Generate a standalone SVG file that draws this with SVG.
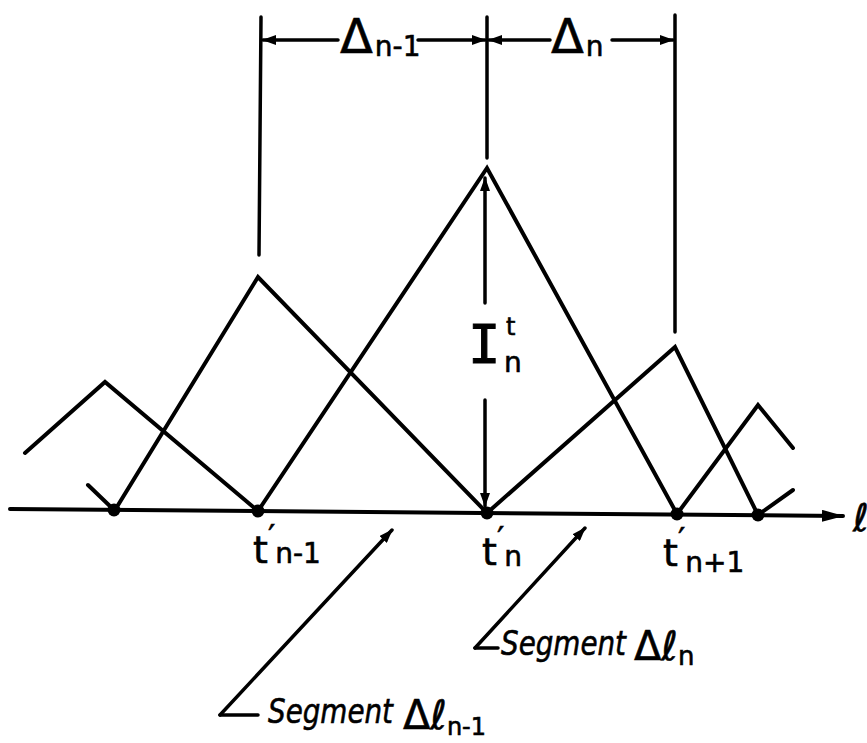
<svg xmlns="http://www.w3.org/2000/svg" width="867" height="743" viewBox="0 0 867 743">
<defs>
<style>
.ln{fill:none;stroke:#000;stroke-width:4;stroke-linecap:round;stroke-linejoin:miter}
.thin{fill:none;stroke:#000;stroke-width:3.5;stroke-linecap:round}
.dot{fill:#000}
.tx{font-family:"DejaVu Sans","Liberation Sans",sans-serif;fill:#000;stroke:#000;stroke-width:0.6}
.it{font-family:"DejaVu Sans","Liberation Sans",sans-serif;font-style:italic;fill:#000;stroke:#000;stroke-width:0.6}
.mono{font-family:"DejaVu Sans Mono","Liberation Mono",monospace;fill:#000;stroke:#000;stroke-width:1}
</style>
<marker id="ah" viewBox="0 0 14 10" refX="13" refY="5" markerWidth="14" markerHeight="10" markerUnits="userSpaceOnUse" orient="auto">
<path d="M0,0 L14,5 L0,10 Z" fill="#000"/>
</marker>
<marker id="big" viewBox="0 0 22 12" refX="21" refY="6" markerWidth="22" markerHeight="12" markerUnits="userSpaceOnUse" orient="auto">
<path d="M0,0 L22,6 L0,12 Z" fill="#000"/>
</marker>
</defs>
<rect width="867" height="743" fill="#fff"/>

<g id="axis">
<line class="ln" x1="10" y1="509" x2="843" y2="516" stroke-width="5" marker-end="url(#big)"/>
<text class="it" x="853" y="531" font-size="38">ℓ</text>
</g>

<g id="curves">
<polyline class="ln" points="25,453 105,382 258,511"/>
<line class="ln" x1="88" y1="485" x2="114" y2="510"/>
<polyline class="ln" points="115,510 258,277 487,513"/>
<polyline class="ln" points="258,511 487,168 677,514"/>
<polyline class="ln" points="487,513 675,347 758,515"/>
<polyline class="ln" points="677,514 758,405 793,448"/>
<line class="ln" x1="758" y1="515" x2="793" y2="490"/>
</g>

<g id="dots">
<circle class="dot" cx="114" cy="510" r="6.5"/>
<circle class="dot" cx="258" cy="511" r="6.5"/>
<circle class="dot" cx="487" cy="513" r="6.5"/>
<circle class="dot" cx="677" cy="514" r="6.5"/>
<circle class="dot" cx="758" cy="515" r="6.5"/>
</g>

<g id="dimensions">
<line class="thin" x1="261" y1="17" x2="259" y2="255"/>
<line class="thin" x1="487" y1="17" x2="487" y2="158"/>
<line class="thin" x1="675" y1="15" x2="675" y2="332"/>
<line class="thin" x1="338" y1="40" x2="263" y2="40" marker-end="url(#ah)"/>
<line class="thin" x1="418" y1="40" x2="485" y2="40" marker-end="url(#ah)"/>
<line class="thin" x1="550" y1="40" x2="489" y2="40" marker-end="url(#ah)"/>
<line class="thin" x1="612" y1="40" x2="673" y2="40" marker-end="url(#ah)"/>
<text class="tx" x="340" y="53" font-size="48">Δ<tspan font-size="28" dx="2" dy="3">n-1</tspan></text>
<text class="tx" x="551" y="53" font-size="48">Δ<tspan font-size="28" dx="2" dy="3">n</tspan></text>
</g>

<g id="amplitude">
<line class="thin" x1="485" y1="303" x2="485" y2="178" marker-end="url(#ah)"/>
<line class="thin" x1="485" y1="400" x2="485" y2="506" marker-end="url(#ah)"/>
<text class="mono" x="468" y="363" font-size="54">I</text>
<text class="tx" x="506" y="335" font-size="24">t</text>
<text class="tx" x="504" y="372" font-size="28">n</text>
</g>

<g id="tick-labels">
<text class="tx" x="253" y="563" font-size="38">t<tspan font-size="32" dy="-16">′</tspan><tspan font-size="28" dy="16">n-1</tspan></text>
<text class="tx" x="482" y="565" font-size="38">t<tspan font-size="32" dy="-16">′</tspan><tspan font-size="28" dy="17">n</tspan></text>
<text class="tx" x="663" y="566" font-size="38">t<tspan font-size="32" dy="-16">′</tspan><tspan font-size="28" dy="22">n+1</tspan></text>
</g>

<g id="segment-labels">
<line class="thin" x1="220" y1="715" x2="392" y2="530" marker-end="url(#ah)"/>
<line class="thin" x1="220" y1="715" x2="258" y2="715"/>
<line class="thin" x1="475" y1="648" x2="585" y2="528" marker-end="url(#ah)"/>
<line class="thin" x1="475" y1="648" x2="498" y2="648"/>
<text class="it" x="268" y="723" font-size="34" textLength="125" lengthAdjust="spacingAndGlyphs">Segment</text>
<text class="tx" x="403" y="729" font-size="40">Δℓ<tspan font-size="24" dy="6">n-1</tspan></text>
<text class="it" x="501" y="655" font-size="34" textLength="125" lengthAdjust="spacingAndGlyphs">Segment</text>
<text class="tx" x="634" y="660" font-size="40">Δℓ<tspan font-size="26" dy="5">n</tspan></text>
</g>
</svg>
